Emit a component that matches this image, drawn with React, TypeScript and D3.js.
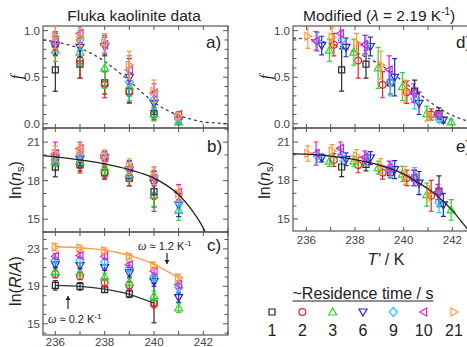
import React, { useEffect, useRef } from 'react';
import * as d3 from 'd3';

// measured temperatures (K) and residence times
const temps = [236, 237, 238, 239, 240, 241];
const residenceTimes = ['1', '2', '3', '6', '9', '10', '21'];
const seriesColors = ['#2b2b2b', '#e8262b', '#2fd32f', '#2626c8', '#22c8f0', '#dd22dd', '#ff9a3c'];
const seriesMarkers = ['square', 'circle', 'up', 'down', 'diamond', 'left', 'right'];
// T' - T for each residence time
const tShift = [1.45, 1.13, 0.95, 0.63, 0.45, 0.40, 0.06];

// frozen fraction f
const fValues = [
  [0.58, 0.64, 0.44, 0.35, 0.11],
  [0.85, 0.68, 0.42, 0.34, 0.10],
  [0.79, 0.77, 0.60, 0.40, 0.11, 0.02],
  [0.84, 0.82, 0.83, 0.50, 0.22, 0.04],
  [0.88, 0.90, 0.85, 0.45, 0.26, 0.05],
  [0.89, 0.97, 0.85, 0.58, 0.33, 0.10],
  [0.94, 0.93, 0.87, 0.63, 0.35, 0.08],
];
const fErrors = [
  [0.23, 0.15, 0.12, 0.12, 0.06],
  [0.12, 0.19, 0.14, 0.12, 0.06],
  [0.12, 0.14, 0.22, 0.15, 0.08, 0.03],
  [0.10, 0.10, 0.10, 0.20, 0.12, 0.03],
  [0.10, 0.10, 0.10, 0.15, 0.10, 0.03],
  [0.10, 0.10, 0.10, 0.15, 0.10, 0.03],
  [0.13, 0.10, 0.10, 0.15, 0.12, 0.04],
];

// ln(n_s)
const nsValues = [
  [19.05, 19.25, 18.6, 18.2, 17.15],
  [19.6, 19.2, 18.6, 18.2, 16.8],
  [19.5, 19.5, 19.0, 18.5, 16.9, 15.7],
  [19.75, 19.65, 19.75, 18.85, 17.8, 16.1],
  [19.9, 20.0, 19.7, 18.85, 18.3, 16.3],
  [20.1, 20.5, 19.8, 19.0, 18.2, 17.1],
  [20.1, 20.3, 19.9, 19.1, 18.4, 17.0],
];
const nsErrors = [
  [0.75, 0.5, 0.4, 0.6, 1.2],
  [0.5, 0.6, 0.5, 0.6, 1.2],
  [0.4, 0.4, 0.5, 0.6, 0.9, 0.8],
  [0.3, 0.5, 0.5, 0.7, 0.9, 0.9],
  [0.5, 0.5, 0.5, 0.6, 0.7, 0.8],
  [0.9, 0.5, 0.5, 0.5, 0.6, 0.6],
  [0.6, 0.5, 0.5, 0.6, 0.7, 0.6],
];

// ln(R/A)
const raValues = [
  [19.1, 19.0, 18.65, 18.2, 17.2],
  [20.3, 20.1, 19.4, 19.1, 17.2],
  [20.6, 20.5, 20.0, 19.45, 18.0, 16.7],
  [21.3, 21.2, 21.0, 20.4, 19.5, 17.8],
  [21.8, 21.8, 21.6, 20.9, 20.0, 18.9],
  [22.2, 22.3, 22.2, 21.3, 20.6, 19.2],
  [23.2, 23.1, 22.8, 22.2, 21.2, 19.9],
];
const raErrors = [
  [0.5, 0.4, 0.3, 0.4, 2.1],
  [0.4, 0.4, 0.4, 0.4, 0.5],
  [0.4, 0.4, 0.4, 0.4, 0.5, 0.5],
  [0.3, 0.3, 0.3, 0.4, 0.5, 0.5],
  [0.3, 0.3, 0.3, 0.3, 0.4, 0.4],
  [0.3, 0.3, 0.3, 0.3, 0.4, 0.4],
  [0.4, 0.3, 0.3, 0.3, 0.4, 0.4],
];

// fitted curves
const fitATemps = [235.5, 236, 236.5, 237, 237.5, 238, 238.5, 239, 239.5, 240, 240.5, 241, 241.5, 242, 242.5, 243];
const fitAValues = [0.90, 0.88, 0.85, 0.81, 0.75, 0.67, 0.57, 0.46, 0.34, 0.23, 0.15, 0.09, 0.05, 0.02, 0.01, 0.0];
const fitBTemps = [235.5, 236, 237, 238, 239, 240, 240.5, 241, 241.5, 242, 242.1];
const fitBValues = [19.95, 19.85, 19.62, 19.3, 18.85, 18.2, 17.65, 16.9, 15.8, 14.3, 13.9];
const fitCTemps = [236, 237, 238, 239, 240, 241];
const fitCOrange = [23.25, 23.1, 22.85, 22.3, 21.35, 19.9];
const fitCBlack = [19.1, 19.0, 18.7, 18.15, 17.2];
const fitDTemps = [235.45, 236, 236.5, 237, 237.5, 238, 238.5, 239, 239.5, 240, 240.5, 241, 241.5, 242, 242.5, 243];
const fitDValues = [0.92, 0.91, 0.89, 0.86, 0.82, 0.77, 0.71, 0.64, 0.55, 0.45, 0.35, 0.25, 0.16, 0.09, 0.04, 0.02];
const fitETemps = [235.45, 236, 237, 238, 239, 239.5, 240, 240.5, 241, 241.5, 242, 242.5, 242.8];
const fitEValues = [20.1, 20.05, 19.9, 19.62, 19.2, 18.9, 18.5, 17.95, 17.35, 16.6, 15.65, 14.5, 13.8];

const FONT = '"Liberation Sans", Arial, sans-serif';

function markerPath(type, x, y) {
  switch (type) {
    case 'square': return `M${x - 3},${y - 3}h6v6h-6Z`;
    case 'circle': return `M${x + 3.4},${y}A3.4,3.4 0 1,1 ${x - 3.4},${y}A3.4,3.4 0 1,1 ${x + 3.4},${y}Z`;
    case 'up': return `M${x},${y - 4}L${x + 4},${y + 3}L${x - 4},${y + 3}Z`;
    case 'down': return `M${x},${y + 4}L${x + 4},${y - 3}L${x - 4},${y - 3}Z`;
    case 'diamond': return `M${x},${y - 4.5}L${x + 4},${y}L${x},${y + 4.5}L${x - 4},${y}Z`;
    case 'left': return `M${x - 4},${y}L${x + 3},${y - 4}L${x + 3},${y + 4}Z`;
    default: return `M${x + 4},${y}L${x - 3},${y - 4}L${x - 3},${y + 4}Z`;
  }
}

const App = () => {
  const svgRef = useRef(null);

  useEffect(() => {
    const svg = d3.select(svgRef.current);
    svg.selectAll('*').remove();
    const defs = svg.append('defs');
    let clipId = 0;

    const xLeft = d3.scaleLinear().domain([235.5, 243]).range([43, 228]);
    const xRight = d3.scaleLinear().domain([235.45, 243]).range([293, 476.7]);

    // frame, inward ticks and tick labels of one panel
    const drawFrame = (x, y, minorStep, labelTicks, fmt, xLabelOffset) => {
      const [x0, x1] = x.range();
      const [y0, y1] = y.range(); // y0 bottom, y1 top
      const g = svg.append('g');
      const xt = d3.range(236, 243.5, 1);
      const [dmin, dmax] = y.domain();
      const yt = d3.range(Math.ceil(dmin / minorStep) * minorStep, dmax + 1e-6, minorStep);
      const isLabel = v => labelTicks.some(l => Math.abs(l - v) < 1e-6);
      xt.forEach(t => {
        const px = x(t);
        if (px > x1) return;
        g.append('line').attr('x1', px).attr('x2', px).attr('y1', y0).attr('y2', y0 - 4);
        g.append('line').attr('x1', px).attr('x2', px).attr('y1', y1).attr('y2', y1 + 4);
      });
      yt.forEach(v => {
        const len = isLabel(v) ? 5 : 3.5;
        g.append('line').attr('x1', x0).attr('x2', x0 + len).attr('y1', y(v)).attr('y2', y(v));
        g.append('line').attr('x1', x1).attr('x2', x1 - len).attr('y1', y(v)).attr('y2', y(v));
      });
      g.selectAll('line').attr('stroke', '#555').attr('stroke-width', 1);
      g.append('rect').attr('x', x0).attr('y', y1).attr('width', x1 - x0).attr('height', y0 - y1)
        .attr('fill', 'none').attr('stroke', '#555').attr('stroke-width', 1.2);
      labelTicks.forEach(v => {
        g.append('text').attr('x', x0 - 3).attr('y', y(v) + 4).attr('text-anchor', 'end')
          .attr('font-size', 11.5).attr('fill', '#444').attr('font-family', FONT).text(fmt(v));
      });
      if (xLabelOffset) {
        [236, 238, 240, 242].forEach(t => {
          g.append('text').attr('x', x(t)).attr('y', y0 + xLabelOffset).attr('text-anchor', 'middle')
            .attr('font-size', 11.5).attr('fill', '#444').attr('font-family', FONT).text(t);
        });
      }
      clipId += 1;
      defs.append('clipPath').attr('id', `clip${clipId}`).append('rect')
        .attr('x', x0).attr('y', y1).attr('width', x1 - x0).attr('height', y0 - y1);
      return svg.append('g').attr('clip-path', `url(#clip${clipId})`);
    };

    const drawSeries = (g, x, y, values, errors, shifted) => {
      values.forEach((vals, s) => {
        const color = seriesColors[s];
        vals.forEach((v, i) => {
          const t = temps[i] + (shifted ? tShift[s] : 0);
          const px = x(t);
          const e = errors[s][i];
          g.append('line').attr('x1', px).attr('x2', px).attr('y1', y(v - e)).attr('y2', y(v + e))
            .attr('stroke', color).attr('stroke-width', 1.2);
          [v - e, v + e].forEach(w => {
            g.append('line').attr('x1', px - 2.5).attr('x2', px + 2.5).attr('y1', y(w)).attr('y2', y(w))
              .attr('stroke', color).attr('stroke-width', 1.2);
          });
          g.append('path').attr('d', markerPath(seriesMarkers[s], px, y(v)))
            .attr('fill', 'none').attr('stroke', color).attr('stroke-width', 1.2);
        });
      });
    };

    const drawCurve = (g, x, y, ts, vs, color, dash) => {
      const line = d3.line().x((d, i) => x(ts[i])).y(d => y(d)).curve(d3.curveMonotoneX);
      const p = g.append('path').attr('d', line(vs)).attr('fill', 'none')
        .attr('stroke', color).attr('stroke-width', 1.3);
      if (dash) p.attr('stroke-dasharray', '3,3');
    };

    const fmt1 = d => d.toFixed(1);
    const fmt0 = d => d.toFixed(0);

    // left column
    const yA = d3.scaleLinear().domain([-0.045, 1.05]).range([128, 26]);
    const gA = drawFrame(xLeft, yA, 0.1, [0, 0.5, 1.0], fmt1, 0);
    drawCurve(gA, xLeft, yA, fitATemps, fitAValues, '#444', true);
    drawSeries(gA, xLeft, yA, fValues, fErrors, false);

    const yB = d3.scaleLinear().domain([14.0, 22.1]).range([232, 128]);
    const gB = drawFrame(xLeft, yB, 1, [15, 18, 21], fmt0, 0);
    drawSeries(gB, xLeft, yB, nsValues, nsErrors, false);
    drawCurve(gB, xLeft, yB, fitBTemps, fitBValues, '#222', false);

    const yC = d3.scaleLinear().domain([13.8, 24.8]).range([335, 232]);
    const gC = drawFrame(xLeft, yC, 1, [15, 19, 23], fmt0, 11);
    drawCurve(gC, xLeft, yC, fitCTemps, fitCOrange, '#ffa040', false);
    drawCurve(gC, xLeft, yC, fitCTemps.slice(0, 5), fitCBlack, '#333', false);
    drawSeries(gC, xLeft, yC, raValues, raErrors, false);

    // right column
    const yD = d3.scaleLinear().domain([-0.045, 1.05]).range([128, 26]);
    const gD = drawFrame(xRight, yD, 0.1, [0, 0.5, 1.0], fmt1, 0);
    drawCurve(gD, xRight, yD, fitDTemps, fitDValues, '#444', true);
    drawSeries(gD, xRight, yD, fValues, fErrors, true);

    const yE = d3.scaleLinear().domain([14.06, 22.09]).range([231, 128]);
    const gE = drawFrame(xRight, yE, 1, [15, 18, 21], fmt0, 12.5);
    drawSeries(gE, xRight, yE, nsValues, nsErrors, true);
    drawCurve(gE, xRight, yE, fitETemps, fitEValues, '#222', false);

    // text
    const txt = (x, y, size, anchor = 'start') => svg.append('text').attr('x', x).attr('y', y)
      .attr('font-size', size).attr('font-family', FONT).attr('fill', '#222').attr('text-anchor', anchor);

    txt(134, 21, 15.5, 'middle').text('Fluka kaolinite data');
    const t2 = txt(303, 21, 15.5);
    t2.append('tspan').text('Modified (');
    t2.append('tspan').attr('font-style', 'italic').text('λ');
    t2.append('tspan').text(' = 2.19 K');
    t2.append('tspan').attr('font-size', 10).attr('dy', -6).text('-1');
    t2.append('tspan').attr('dy', 6).text(')');

    txt(206, 48, 17).text('a)');
    txt(207, 152, 17).text('b)');
    txt(207, 251, 17).text('c)');
    txt(456, 48, 17).text('d)');
    txt(456, 152, 17).text('e)');

    const yLabel = (x, y) => txt(0, 0, 16, 'middle').attr('transform', `translate(${x},${y}) rotate(-90)`);
    yLabel(22, 77).attr('font-style', 'italic').attr('font-family', 'serif').text('f');
    yLabel(271, 77).attr('font-style', 'italic').attr('font-family', 'serif').text('f');
    [[21, 180], [270, 180]].forEach(([x, y]) => {
      const l = yLabel(x, y);
      l.append('tspan').text('ln(');
      l.append('tspan').attr('font-style', 'italic').text('n');
      l.append('tspan').attr('font-size', 11).attr('dy', 3).text('s');
      l.append('tspan').attr('dy', -3).text(')');
    });
    const lra = yLabel(21, 281);
    lra.append('tspan').text('ln(');
    lra.append('tspan').attr('font-style', 'italic').text('R');
    lra.append('tspan').text('/');
    lra.append('tspan').attr('font-style', 'italic').text('A');
    lra.append('tspan').text(')');

    const xl = txt(386, 265, 16, 'middle');
    xl.append('tspan').attr('font-style', 'italic').text("T'");
    xl.append('tspan').text(' / K');

    // omega annotations
    const om = (x, y, val) => {
      const t = txt(x, y, 11);
      t.append('tspan').attr('font-family', 'serif').attr('font-style', 'italic').attr('font-size', 12).text('ω');
      t.append('tspan').text(` ≈ ${val} K`);
      t.append('tspan').attr('font-size', 8).attr('dy', -4).text('-1');
    };
    om(138, 250, '1.2');
    om(48, 323, '0.2');
    const arrow = (x, yFrom, yTo) => {
      svg.append('line').attr('x1', x).attr('x2', x).attr('y1', yFrom).attr('y2', yTo)
        .attr('stroke', '#222').attr('stroke-width', 1.2);
      const dir = yTo > yFrom ? 1 : -1;
      svg.append('path').attr('d', `M${x - 2.5},${yTo - 4 * dir}L${x},${yTo}L${x + 2.5},${yTo - 4 * dir}Z`)
        .attr('fill', '#222');
    };
    arrow(167, 253, 264);
    arrow(68, 309, 296);

    // legend
    const lt = txt(363, 299, 16, 'middle').text('~Residence time / s');
    const w = lt.node().getComputedTextLength();
    svg.append('line').attr('x1', 363 - w / 2).attr('x2', 363 + w / 2).attr('y1', 301).attr('y2', 301)
      .attr('stroke', '#222').attr('stroke-width', 1);
    const lx = d3.scalePoint().domain(residenceTimes).range([272, 454]);
    residenceTimes.forEach((r, i) => {
      svg.append('path').attr('d', markerPath(seriesMarkers[i], lx(r), 312))
        .attr('fill', 'none').attr('stroke', seriesColors[i]).attr('stroke-width', 1.2);
      txt(lx(r), 336, 16, 'middle').text(r);
    });
  }, []);

  return (
    <svg ref={svgRef} width={467} height={347}
      style={{ position: 'absolute', left: 0, top: 0, background: '#fff' }} />
  );
};

export default App;
